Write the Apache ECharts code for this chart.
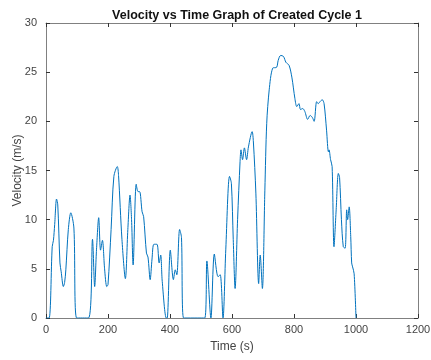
<!DOCTYPE html>
<html>
<head>
<meta charset="utf-8">
<script src="https://cdn.jsdelivr.net/npm/echarts@6/dist/echarts.min.js"></script>
<style>html,body{margin:0;padding:0;background:#fff;}#c{width:431px;height:360px;}</style>
</head>
<body>
<div id="c"></div>
<script>
const titleText = 'Velocity vs Time Graph of Created Cycle 1';
const xName = 'Time (s)';
const yName = 'Velocity (m/s)';
const xTicks = [0, 200, 400, 600, 800, 1000, 1200];
const yTicks = [0, 5, 10, 15, 20, 25, 30];
const times = [0,10,20,24,28,34,38,45,49,56,60,64,72,80,90,99,137,150,157,163,170,176,182,189,196,200,210,219,230,234,245,256,264,271,276,281,291,297,302,310,315,324,329,336,342,348,358,365,370,375,388,391,401,411,417,422,431,437,444,512,519,532,543,555,562,571,580,592,598,604,610,618,626,629,634,640,647,653,665,669,677,686,691,698,706,712,720,731,744,749,757,766,774,784,793,803,809,816,821,828,835,844,852,859,865,873,878,884,891,897,905,911,913,918,923,929,936,943,947,953,959,965,970,973,978,983,986,989,994,1000];
const speeds = [0,0,7.25,7.9,9.5,12.1,11.5,5.6,4.7,3.2,3.6,4.9,9,10.7,9.15,0,0,8.0,3.2,7,10.2,6.9,7.9,5,3.2,3.4,9,14.4,15.4,14.5,8,4.0,9,12.5,10,5.4,13.6,12.85,12.85,10.8,10.3,6.6,6.2,3.9,6,7.5,7.5,5.6,6.4,3.7,0,0,6.9,3.9,4.9,4.4,9.0,8.2,0,0,5.8,0,6.5,4.2,4.4,0,7,14.4,13.7,8,3.0,10,15.9,17.1,16.1,17.3,16.1,17.4,18.95,17.9,12.7,3.5,6.4,3.0,13.0,19.8,23.2,25.4,25.5,26.2,26.7,26.6,26.0,25.7,24.5,22.3,21.5,21.8,21.2,21.3,21.0,20.2,20.6,20.4,20.0,22.0,21.8,22.0,22.2,21.8,19.1,16.9,17.1,16.1,15.4,7.25,11,14.7,14.3,10,7.25,7.1,11.0,10.0,11.3,8.3,5.6,5.2,4.5,0];

const data = times.map((t, i) => [t, speeds[i]]);
const axisCol = '#808080';
const labCol = '#444';
const font = 'Liberation Sans, Arial, sans-serif';

function mkAxisLine() { return { show: true, onZero: false, lineStyle: { color: axisCol, width: 1 } }; }
function mkTick() { return { show: true, inside: true, length: 4, lineStyle: { color: '#333' } }; }

const chart = echarts.init(document.getElementById('c'));
chart.setOption({
  animation: false,
  backgroundColor: '#fff',
  title: {
    text: titleText, left: 232, top: 4, textAlign: 'center',
    textStyle: { fontFamily: font, fontSize: 12.5, fontWeight: 'bold', color: '#111' }
  },
  grid: { left: 46, right: 13, top: 23, bottom: 42, containLabel: false, outerBoundsMode: 'none' },
  xAxis: [{
    type: 'value', min: 0, max: 1200, interval: 200, position: 'bottom',
    name: xName, nameLocation: 'middle', nameGap: 23, nameMoveOverlap: false,
    nameTextStyle: { fontFamily: font, fontSize: 12, color: labCol },
    axisLine: mkAxisLine(), axisTick: mkTick(),
    axisLabel: { fontFamily: font, fontSize: 11, color: labCol, margin: 6,
      formatter: v => xTicks.includes(v) ? String(v) : '' },
    splitLine: { show: false }
  }, {
    type: 'value', min: 0, max: 1200, interval: 200, position: 'top',
    axisLine: mkAxisLine(), axisTick: mkTick(),
    axisLabel: { show: false }, splitLine: { show: false }
  }],
  yAxis: [{
    type: 'value', min: 0, max: 30, interval: 5, position: 'left',
    name: yName, nameLocation: 'middle', nameGap: 22, nameMoveOverlap: false,
    nameTextStyle: { fontFamily: font, fontSize: 12, color: labCol },
    axisLine: mkAxisLine(), axisTick: mkTick(),
    axisLabel: { fontFamily: font, fontSize: 11, color: labCol, margin: 9,
      formatter: v => yTicks.includes(v) ? String(v) : '' },
    splitLine: { show: false }
  }, {
    type: 'value', min: 0, max: 30, interval: 5, position: 'right',
    axisLine: mkAxisLine(), axisTick: mkTick(),
    axisLabel: { show: false }, splitLine: { show: false }
  }],
  series: [{
    type: 'line', data: data, showSymbol: false, smooth: 0.3,
    lineStyle: { color: '#0072BD', width: 1 }, clip: true
  }]
});
</script>
</body>
</html>
